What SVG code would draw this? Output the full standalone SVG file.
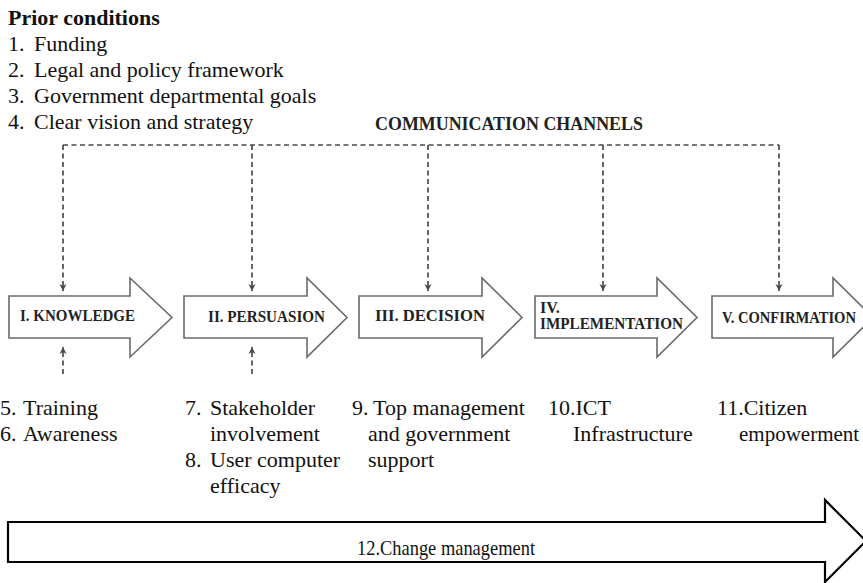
<svg xmlns="http://www.w3.org/2000/svg" width="863" height="583" viewBox="0 0 863 583">
<defs>
<style>
.t{font-family:"Liberation Serif","Times New Roman",serif;font-size:22px;fill:#111}
.b{font-weight:bold}
.lab{font-family:"Liberation Serif","Times New Roman",serif;font-weight:bold;font-size:17px;fill:#222}
.blk{fill:#fff;stroke:#6a6a6a;stroke-width:1.6;stroke-linejoin:miter}
.dash{fill:none;stroke:#4a4a4a;stroke-width:1.7;stroke-dasharray:5 3.5}
.big{fill:#fff;stroke:#000;stroke-width:2.2}
</style>
<marker id="ah" markerUnits="userSpaceOnUse" markerWidth="8" markerHeight="8" refX="7" refY="4" orient="auto">
<path d="M0,0.5 L7,4 L0,7.5 L2,4 z" fill="#4a4a4a"/>
</marker>
</defs>
<rect width="863" height="583" fill="#fff"/>

<g id="prior-conditions">
<text class="t b" x="8" y="25">Prior conditions</text>
<text class="t" x="8" y="51">1.</text><text class="t" x="34" y="51">Funding</text>
<text class="t" x="8" y="77">2.</text><text class="t" x="34" y="77">Legal and policy framework</text>
<text class="t" x="8" y="103">3.</text><text class="t" x="34" y="103">Government departmental goals</text>
<text class="t" x="8" y="129">4.</text><text class="t" x="34" y="129">Clear vision and strategy</text>
</g>

<g id="communication-channels">
<text class="lab" x="375" y="130" textLength="268" lengthAdjust="spacingAndGlyphs" style="font-size:18px">COMMUNICATION CHANNELS</text>
</g>

<g id="connectors">
<path class="dash" d="M63,145 H779"/>
<path class="dash" d="M63,145 V291" marker-end="url(#ah)"/>
<path class="dash" d="M252,145 V291" marker-end="url(#ah)"/>
<path class="dash" d="M428,145 V291" marker-end="url(#ah)"/>
<path class="dash" d="M603,145 V291" marker-end="url(#ah)"/>
<path class="dash" d="M779,145 V291" marker-end="url(#ah)"/>
<path class="dash" d="M63,374 V347" marker-end="url(#ah)"/>
<path class="dash" d="M252,374 V347" marker-end="url(#ah)"/>
</g>

<g id="knowledge">
<polygon class="blk" points="9,296 130,296 130,278 172,317.5 130,357 130,338 9,338"/>
<text class="lab" x="20" y="321" textLength="115" lengthAdjust="spacingAndGlyphs">I. KNOWLEDGE</text>
</g>
<g id="persuasion">
<polygon class="blk" points="184,296 307,296 307,278 347,317.5 307,357 307,338 184,338"/>
<text class="lab" x="208" y="322" textLength="117" lengthAdjust="spacingAndGlyphs">II. PERSUASION</text>
</g>
<g id="decision">
<polygon class="blk" points="359,296 482,296 482,278 522,317.5 482,357 482,338 359,338"/>
<text class="lab" x="375" y="321" textLength="110" lengthAdjust="spacingAndGlyphs">III. DECISION</text>
</g>
<g id="implementation">
<polygon class="blk" points="535,296 657,296 657,278 697,317.5 657,357 657,338 535,338"/>
<text class="lab" x="540" y="313" style="font-size:16px">IV.</text>
<text class="lab" x="540" y="329" textLength="143" lengthAdjust="spacingAndGlyphs" style="font-size:16px">IMPLEMENTATION</text>
</g>
<g id="confirmation">
<polygon class="blk" points="712,296 833,296 833,278 873,317.5 833,357 833,338 712,338"/>
<text class="lab" transform="translate(722,323) scale(1,1.17)" x="0" y="0" textLength="134" lengthAdjust="spacingAndGlyphs" style="font-size:14.5px">V. CONFIRMATION</text>
</g>

<g id="factors-knowledge">
<text class="t" x="0" y="415">5.</text><text class="t" x="23" y="415">Training</text>
<text class="t" x="0" y="441">6.</text><text class="t" x="23" y="441">Awareness</text>
</g>
<g id="factors-persuasion">
<text class="t" x="185" y="415">7.</text><text class="t" x="210" y="415">Stakeholder</text>
<text class="t" x="210" y="441">involvement</text>
<text class="t" x="185" y="467">8.</text><text class="t" x="210" y="467">User computer</text>
<text class="t" x="210" y="493">efficacy</text>
</g>
<g id="factors-decision">
<text class="t" x="352" y="415">9.</text><text class="t" x="373" y="415">Top management</text>
<text class="t" x="368" y="441">and government</text>
<text class="t" x="368" y="467">support</text>
</g>
<g id="factors-implementation">
<text class="t" x="548" y="415">10.ICT</text>
<text class="t" x="573" y="441">Infrastructure</text>
</g>
<g id="factors-confirmation">
<text class="t" x="717" y="415">11.Citizen</text>
<text class="t" x="739" y="441" style="font-size:21px">empowerment</text>
</g>

<g id="change-management">
<polygon class="big" points="8,522 825,522 825,500 866,541 825,582 825,562 8,562"/>
<text class="t" x="357" y="555" textLength="178" lengthAdjust="spacingAndGlyphs" style="font-size:21px">12.Change management</text>
</g>
</svg>
